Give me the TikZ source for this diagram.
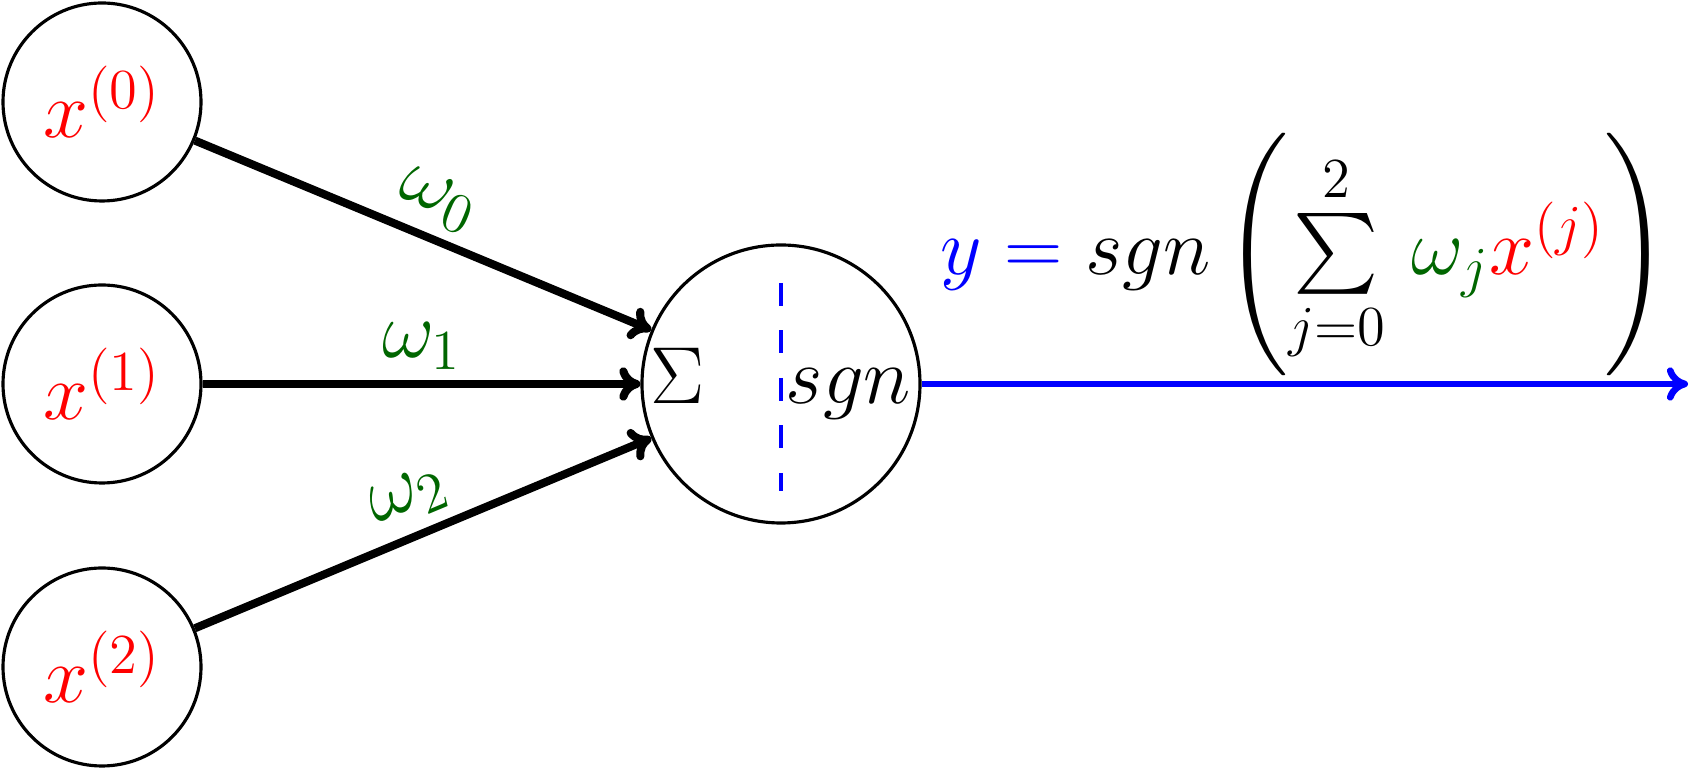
\RequirePackage{fix-cm}
\documentclass[tikz,border=0pt]{standalone}
\usepackage{xcolor}
\usetikzlibrary{arrows.meta}
\DeclareFontShape{OMX}{cmex}{m}{n}{<-> cmex10}{}
\definecolor{wgreen}{rgb}{0,0.4,0}

\begin{document}
\begin{tikzpicture}[
  every node/.style={font=\fontsize{23}{28}\selectfont},
  neuron/.style={circle, draw, line width=0.9pt, minimum size=1.98cm, inner sep=0pt},
  weight/.style={midway, above, sloped, inner sep=3pt, text=wgreen},
  link/.style={line width=2.3pt, -{To[length=6pt,width=9.5pt]}}
]

\useasboundingbox (0,0) rectangle (17.05,7.71);

% inputs
\node[neuron] (x0) at (1.02,6.69) {\color{red}$x^{(0)}$};
\node[neuron] (x1) at (1.02,3.87) {\color{red}$x^{(1)}$};
\node[neuron] (x2) at (1.02,1.04) {\color{red}$x^{(2)}$};

% summation and sign
\node[neuron, minimum size=2.78cm] (sum) at (7.81,3.87) {$\Sigma\quad sgn$};
\draw[blue, line width=1.15pt, dash pattern=on 6.5pt off 7pt] ([yshift=1.01cm]sum.center) -- ([yshift=-1.07cm]sum.center);

\coordinate (out) at (16.88,3.87);

\draw[link] (x0) -- (sum) node[weight] {$\omega_0$};
\draw[link] (x1) -- (sum) node[weight] {$\omega_1$};
\draw[link] (x2) -- (sum) node[weight] {$\omega_2$};

% output
\draw[link, blue, line width=1.9pt] (sum) -- (out) node[midway, above, inner sep=1.5pt, text=black]
  {$\color{blue}y = \color{black}sgn\left(\sum\limits_{j=0}^{2}\,\color{wgreen}\omega_j\color{red}x^{(j)}\color{black}\right)$};

\end{tikzpicture}
\end{document}
